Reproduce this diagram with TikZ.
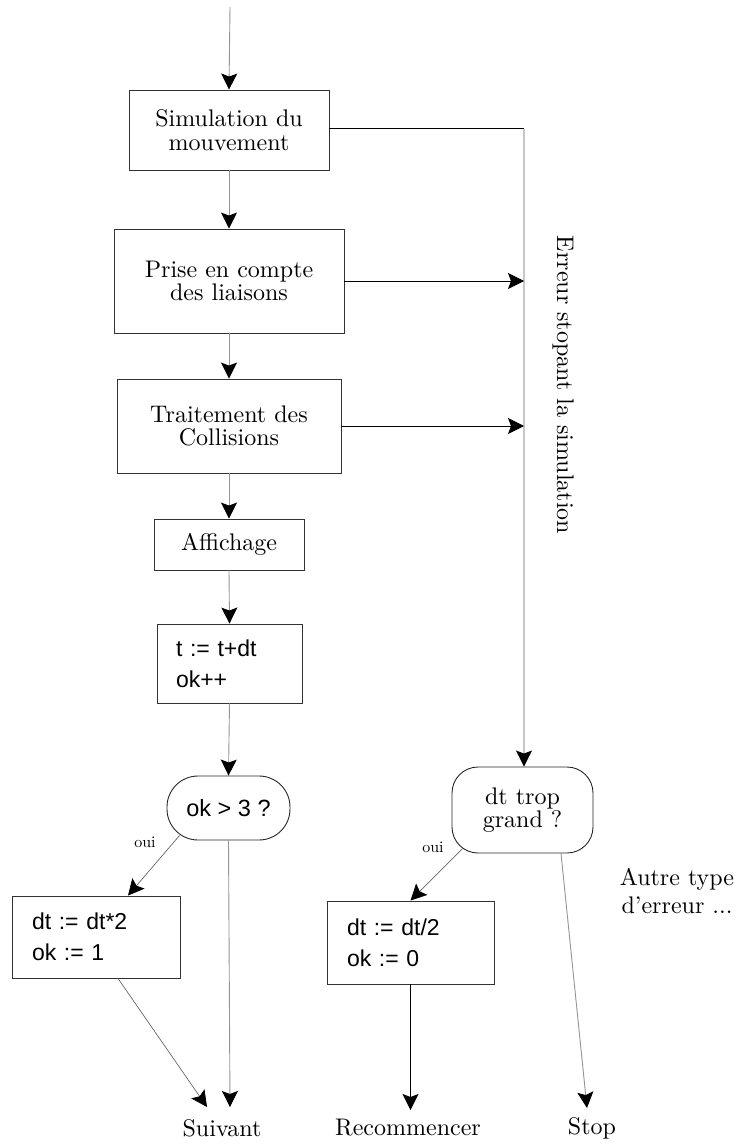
\documentclass[tikz,border=0pt]{standalone}
\usepackage{fontspec}
\setmainfont{lmroman10-regular.otf}
\setsansfont{Liberation Sans}
\usetikzlibrary{arrows.meta,calc}
\begin{document}
\begin{tikzpicture}[x=1pt,y=-1pt,
  every node/.style={inner sep=0pt},
  box/.style={draw=black!80, line width=0.9pt, align=center, font=\fontsize{24}{23.5}\selectfont},
  codebox/.style={draw=black!80, line width=0.9pt, align=left, font=\sffamily\fontsize{23}{31}\selectfont},
  decision/.style={draw=black!85, line width=0.9pt, align=center},
  lbl/.style={font=\fontsize{24}{28}\selectfont, align=center},
  small/.style={font=\fontsize{16}{16}\selectfont},
  tip/.style={-{Stealth[length=16pt,width=16pt,inset=3pt,color=black]}},
  conn/.style={line width=0.9pt, draw=black!42},
  diag/.style={line width=0.7pt, draw=black!60},
  hard/.style={line width=1pt, draw=black},
  rail/.style={line width=1.3pt, draw=black!22},
]
\useasboundingbox (0,0) rectangle (739,1145);

% nodes
\coordinate (start) at (230,7);
\node[box, minimum width=200pt, minimum height=80pt] (sim) at (229,130) {Simulation du\\mouvement};
\node[box, minimum width=230pt, minimum height=104pt] (lia) at (229,281) {Prise en compte\\des liaisons};
\node[box, minimum width=224pt, minimum height=94pt] (col) at (229,426) {Traitement des\\Collisions};
\node[box, minimum width=150pt, minimum height=51pt] (aff) at (229,544.5) {Affichage};
\node[codebox, text width=107pt, inner xsep=19pt, minimum height=79pt] (tdt) at (229.5,663.5) {t := t+dt\\ok++};
\node[decision, rounded corners=31pt, minimum width=123pt, minimum height=64pt, font=\sffamily\fontsize{23.5}{24}\selectfont] (ok) at (228.5,808) {ok > 3 ?};
\node[codebox, text width=128pt, inner xsep=20pt, minimum height=82pt] (dbl) at (96,937) {dt := dt*2\\ok := 1};
\node[decision, rounded corners=26pt, minimum width=141pt, minimum height=86pt, font=\fontsize{24}{23.5}\selectfont] (big) at (522.5,810) {dt trop\\grand ?};
\node[codebox, text width=127pt, inner xsep=20pt, minimum height=83pt] (half) at (410.5,942.5) {dt := dt/2\\ok := 0};

\node[lbl] (suiv) at (222,1128) {Suivant};
\node[lbl] (rec) at (408,1128) {Recommencer};
\node[lbl] (stop) at (592,1128) {Stop};
\node[lbl] (autre) at (677,891) {Autre type\\d'erreur ...};
\node[lbl, rotate=-90] (err) at (563,385) {Erreur stopant la simulation};
\node[small] (oui1) at (145,842) {oui};
\node[small] (oui2) at (433,847) {oui};

% coordinates for free ends
\coordinate (corner) at (524,129);
\coordinate (e2) at (524,281);
\coordinate (e3) at (524,426);
\coordinate (s1) at (207,1107);
\coordinate (s2) at (230,1107);
\coordinate (r1) at (410.5,1110);
\coordinate (st) at (587,1108);

% main flow
\draw[conn, tip] (start) -- (sim.north);
\draw[conn, tip] (sim.south) -- (lia.north);
\draw[conn, tip] (lia.south) -- (col.north);
\draw[conn, tip] (col.south) -- (aff.north);
\draw[conn, tip] (aff.south) -- (tdt.north);
\draw[conn, tip] (tdt.south) -- (ok.north);

% error rail
\draw[hard] (sim.east |- corner) -- (corner);
\draw[rail, tip] (corner) -- (corner |- big.north);
\draw[hard, tip] (lia.east) -- (e2);
\draw[hard, tip] (col.east) -- (e3);

% decisions
\draw[diag, tip] ($(ok.south west)+(13,-5)$) -- ($(dbl.north)+(32,0)$);
\draw[conn, tip] (ok.south) -- (s2);
\draw[diag, tip] ($(dbl.south)+(22,0)$) -- (s1);
\draw[diag, tip] ($(big.south west)+(11,-5)$) -- (half.north);
\draw[hard, tip] (half.south) -- (r1);
\draw[conn, tip] ($(big.south)+(38.5,0)$) -- (st);
\end{tikzpicture}
\end{document}
